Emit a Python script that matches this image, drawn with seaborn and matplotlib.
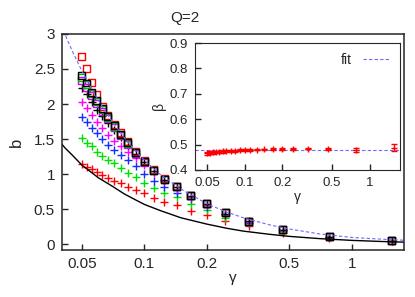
import numpy as np
import pandas as pd
import matplotlib
matplotlib.use("Agg")
import matplotlib.pyplot as plt
import matplotlib.ticker as ticker
import seaborn as sns

# gamma grid shared by all the data sets
gamma = [0.05, 0.0526, 0.0556, 0.0588, 0.0625, 0.0667, 0.0714, 0.0769, 0.0833,
         0.0909, 0.1, 0.111, 0.125, 0.143, 0.167, 0.2, 0.245, 0.318, 0.465, 0.78, 1.56]

# b values, "+" series
b_red_plus = [1.15, 1.11, 1.07, 1.03, 0.99, 0.94, 0.91, 0.87, 0.82, 0.77, 0.73,
              0.66, 0.61, 0.56, 0.48, 0.42, 0.33, 0.26, 0.17, 0.09, 0.045]
b_green_plus = [1.52, 1.45, 1.40, 1.32, 1.26, 1.20, 1.16, 1.09, 1.02, 0.96, 0.88,
                0.81, 0.74, 0.68, 0.58, 0.49, 0.38, 0.30, 0.19, 0.10, 0.05]
b_blue_plus = [1.82, 1.74, 1.66, 1.59, 1.50, 1.42, 1.35, 1.28, 1.21, 1.12, 1.01,
               0.91, 0.82, 0.74, 0.65, 0.54, 0.42, 0.31, 0.20, 0.105, 0.05]
b_magenta_plus = [2.03, 1.94, 1.85, 1.75, 1.66, 1.56, 1.48, 1.40, 1.31, 1.23, 1.13,
                  1.02, 0.90, 0.79, 0.67, 0.56, 0.44, 0.32, 0.21, 0.11, 0.055]
b_black_plus = [2.23, 2.14, 2.03, 1.92, 1.83, 1.73, 1.63, 1.53, 1.42, 1.29, 1.17,
                1.05, 0.92, 0.82, 0.69, 0.57, 0.44, 0.33, 0.21, 0.11, 0.055]

# b values, square series
b_red_sq = [2.68, 2.50, 2.31, 2.14, 1.97, 1.84, 1.71, 1.59, 1.47, 1.33, 1.19,
            1.07, 0.94, 0.83, 0.70, 0.58, 0.45, 0.33, 0.215, 0.115, 0.057]
b_magenta_sq = [2.34, 2.24, 2.12, 2.01, 1.90, 1.79, 1.67, 1.55, 1.43, 1.30, 1.17,
                1.05, 0.93, 0.82, 0.70, 0.58, 0.45, 0.33, 0.215, 0.115, 0.057]
b_green_sq = [2.38, 2.28, 2.15, 2.03, 1.92, 1.81, 1.68, 1.56, 1.44, 1.31, 1.18,
              1.06, 0.93, 0.83, 0.70, 0.58, 0.45, 0.33, 0.215, 0.115, 0.057]
b_black_sq = [2.41, 2.30, 2.17, 2.05, 1.93, 1.82, 1.69, 1.57, 1.45, 1.31, 1.18,
              1.06, 0.93, 0.83, 0.70, 0.58, 0.45, 0.33, 0.215, 0.115, 0.057]

# curves
curve_g = [0.04, 0.0413, 0.045, 0.05, 0.06, 0.07, 0.08, 0.09, 0.1, 0.12, 0.15, 0.2,
           0.25, 0.3, 0.4, 0.5, 0.7, 1.0, 1.4, 1.78]
black_curve = [1.43, 1.38, 1.27, 1.13, 0.95, 0.83, 0.72, 0.64, 0.57, 0.48, 0.38, 0.29,
               0.23, 0.19, 0.145, 0.115, 0.083, 0.058, 0.042, 0.033]
fit_curve = [3.12, 3.0, 2.75, 2.47, 2.05, 1.75, 1.52, 1.34, 1.20, 0.99, 0.79, 0.58,
             0.46, 0.38, 0.28, 0.22, 0.15, 0.10, 0.075, 0.06]

# inset: beta with error bars
beta = [0.465, 0.467, 0.469, 0.470, 0.471, 0.473, 0.474, 0.475, 0.476, 0.477, 0.478,
        0.479, 0.480, 0.481, 0.482, 0.482, 0.483, 0.484, 0.483, 0.480, 0.488]
beta_err = [0.006, 0.006, 0.006, 0.005, 0.005, 0.005, 0.005, 0.004, 0.004, 0.004, 0.004,
            0.003, 0.003, 0.003, 0.003, 0.003, 0.003, 0.003, 0.004, 0.008, 0.015]
beta_fit = 0.48

sns.set_style("ticks", {"xtick.direction": "in", "ytick.direction": "in"})
plt.rcParams["font.family"] = ["Liberation Sans", "DejaVu Sans"]

fig = plt.figure(figsize=(4.15, 2.97), dpi=100)
ax = fig.add_axes([0.149, 0.158, 0.824, 0.728])

curves = pd.DataFrame({"g": curve_g, "black": black_curve, "fit": fit_curve})
sns.lineplot(data=curves, x="g", y="black", color="black", lw=1.0, ax=ax)
sns.lineplot(data=curves, x="g", y="fit", color="#6b6bff", lw=0.8, ax=ax,
             linestyle=(0, (3, 2)))

plus_sets = [(b_red_plus, "#ff0000"), (b_green_plus, "#00e000"),
             (b_blue_plus, "#1030ff"), (b_magenta_plus, "#ff00ff"),
             (b_black_plus, "black")]
for vals, col in plus_sets:
    sns.scatterplot(x=gamma, y=vals, marker="+", s=34, linewidth=1.0, color=col, ax=ax)

sq_sets = [(b_red_sq, "#ff0000"), (b_magenta_sq, "#d000ff"),
           (b_green_sq, "#00c000"), (b_black_sq, "black")]
for vals, col in sq_sets:
    sns.scatterplot(x=gamma, y=vals, marker="s", s=25, linewidth=1.0,
                    facecolor="none", edgecolor=col, ax=ax)

ax.set_xscale("log")
ax.set_xlim(0.04, 1.78)
ax.set_ylim(-0.08, 3.0)
xt = [0.05, 0.1, 0.2, 0.5, 1]
ax.xaxis.set_major_locator(ticker.FixedLocator(xt))
ax.xaxis.set_major_formatter(ticker.FixedFormatter(["0.05", "0.1", "0.2", "0.5", "1"]))
ax.xaxis.set_minor_locator(ticker.NullLocator())
ax.set_yticks([0, 0.5, 1, 1.5, 2, 2.5, 3])
ax.set_yticklabels(["0", "0.5", "1", "1.5", "2", "2.5", "3"])
ax.tick_params(labelsize=11, length=4, width=1, pad=5)
for sp in ax.spines.values():
    sp.set_linewidth(1.1)
ax.set_xlabel("γ", fontsize=11, labelpad=0)
ax.set_ylabel("b", fontsize=12, labelpad=7)
fig.text(0.446, 0.938, "Q=2", ha="center", va="center", fontsize=11)

# inset
ins = fig.add_axes([0.470, 0.428, 0.494, 0.427])
ins.set_facecolor("white")
ins.axhline(beta_fit, color="#6b6bff", lw=0.8, linestyle=(0, (3, 2)), label="fit")
ins.errorbar(gamma, beta, yerr=beta_err, fmt="+", color="#ff0000", ms=5,
             mew=1.0, elinewidth=0.8, capsize=2)
ins.set_xscale("log")
ins.set_xlim(0.04, 1.75)
ins.set_ylim(0.4, 0.9)
ins.xaxis.set_major_locator(ticker.FixedLocator(xt))
ins.xaxis.set_major_formatter(ticker.FixedFormatter(["0.05", "0.1", "0.2", "0.5", "1"]))
ins.xaxis.set_minor_locator(ticker.NullLocator())
ins.set_yticks([0.4, 0.5, 0.6, 0.7, 0.8, 0.9])
ins.set_yticklabels(["0.4", "0.5", "0.6", "0.7", "0.8", "0.9"])
ins.tick_params(labelsize=9.5, length=4, width=1, pad=5)
ins.set_xlabel("γ", fontsize=10, labelpad=1)
ins.set_ylabel("β", fontsize=10, labelpad=3)
ins.legend(loc="upper right", frameon=False, fontsize=10, markerfirst=False,
           handlelength=2.0, borderaxespad=0.3)

fig.savefig("out.png", dpi=100)
